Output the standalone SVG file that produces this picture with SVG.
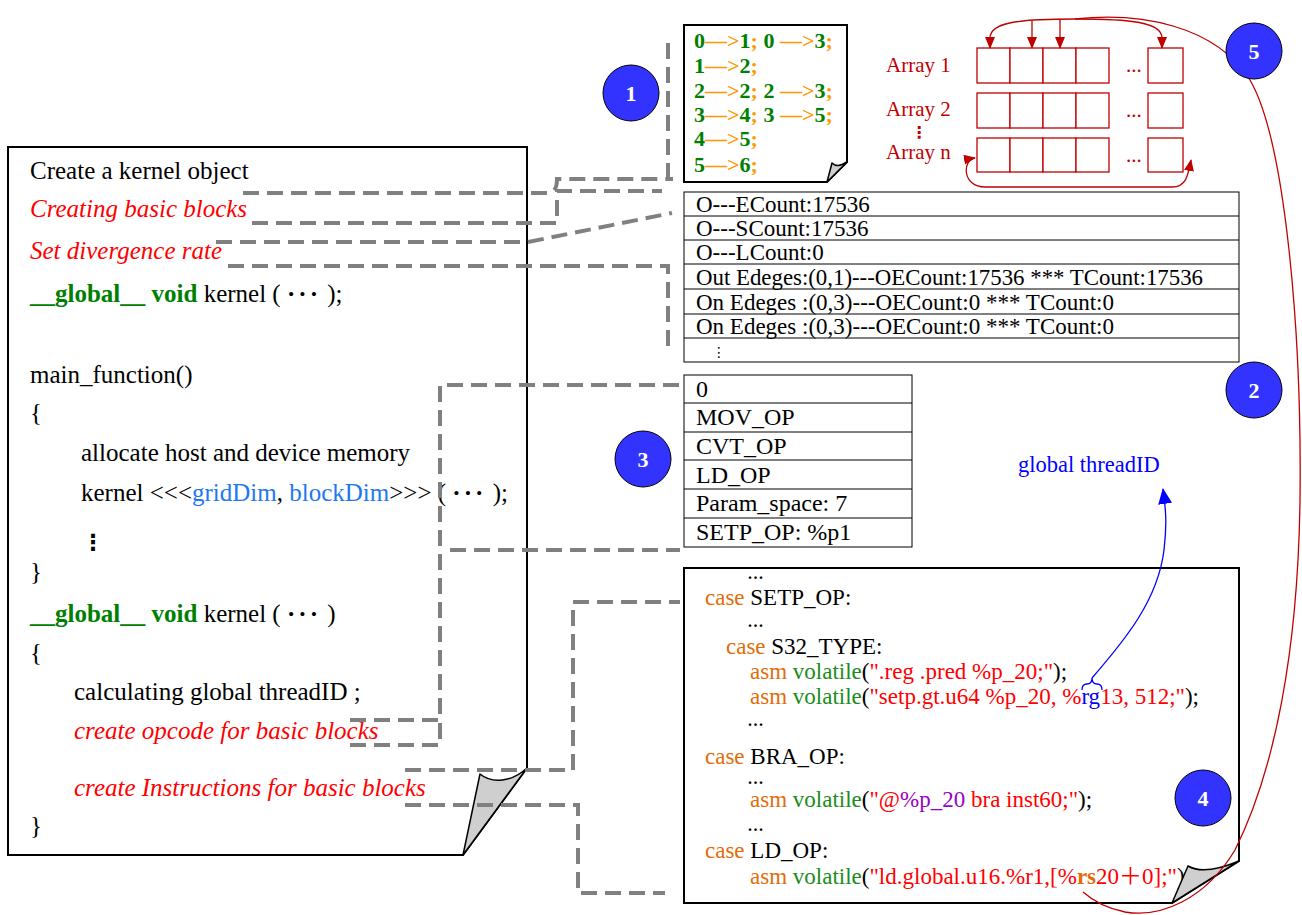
<svg xmlns="http://www.w3.org/2000/svg" width="1302" height="915" viewBox="0 0 1302 915">
<defs>
<style>
text{font-family:'Liberation Serif','Noto Sans CJK SC',serif;}
.doc{fill:#fff;stroke:#000;stroke-width:2;stroke-linejoin:miter}
.fold{fill:#cfcfcf;stroke:#000;stroke-width:1.5;stroke-linejoin:round}
.L{font-size:25px;fill:#000}
.red{fill:#ff0000;font-style:italic}
.grn{fill:#008000;font-weight:bold}
.blu{fill:#1e78f0}
.tb{fill:#fff;stroke:#000;stroke-width:1}
.ln{stroke:#000;stroke-width:1}
.T{font-size:24px;fill:#000}
.T2{font-size:23px;fill:#000}
.b1{font-size:22px;font-weight:bold;fill:#008000}
.or{fill:#ff9900}
.C{font-size:23px;fill:#000}
.cs{fill:#e36c09}
.vo{fill:#1a8c1a}
.st{fill:#ff0000}
.pu{fill:#9900cc}
.dt{font-weight:bold}
.el{font-size:16px;font-weight:bold;fill:#000;letter-spacing:1.5px}
.arr{font-size:21px;fill:#c00000}
.ac{fill:#fff;stroke:#c00000;stroke-width:1.3}
.rl{fill:none;stroke:#c00000;stroke-width:1.3}
.d{fill:none;stroke:#808080;stroke-width:4;stroke-dasharray:16 8}
.circ{fill:#3333ff;stroke:#000;stroke-width:1}
.num{font-size:22px;font-weight:bold;fill:#fff;text-anchor:middle}
</style>
<marker id="ra" markerWidth="12" markerHeight="10" refX="11" refY="5" orient="auto-start-reverse" markerUnits="userSpaceOnUse"><path d="M0,0 L12,5 L0,10 z" fill="#c00000"/></marker>
<marker id="ba" markerWidth="16" markerHeight="14" refX="15" refY="7" orient="auto" markerUnits="userSpaceOnUse"><path d="M0,0 L16,7 L0,14 z" fill="#0000ff"/></marker>
</defs>

<g id="left-doc">
<path class="doc" d="M8,147 H527 V768 L463,855 H8 Z"/>
<path class="fold" d="M527,768 C512,782 492,784 480,774 L463,855 Z"/>
<text class="L" x="30" y="179">Create a kernel object</text>
<text class="L red" x="30" y="217">Creating basic blocks</text>
<text class="L red" x="30" y="259">Set divergence rate</text>
<text class="L" x="30" y="302"><tspan class="grn">__global__</tspan>  <tspan class="grn">void</tspan> kernel ( <tspan class="dt" letter-spacing="3">···</tspan> );</text>
<text class="L" x="30" y="383">main_function()</text>
<text class="L" x="30" y="421">{</text>
<text class="L" x="81" y="461">allocate host and device memory</text>
<text class="L" x="81" y="501">kernel &lt;&lt;&lt;<tspan class="blu">gridDim</tspan>, <tspan class="blu">blockDim</tspan>&gt;&gt;&gt; ( <tspan class="dt" letter-spacing="3">···</tspan> );</text>
<text class="L dt" x="82" y="550" style="font-family:'DejaVu Sans',sans-serif;font-size:22px">⋮</text>
<text class="L" x="30" y="580">}</text>
<text class="L" x="30" y="622"><tspan class="grn">__global__</tspan>  <tspan class="grn">void</tspan> kernel ( <tspan class="dt" letter-spacing="3">···</tspan> )</text>
<text class="L" x="30" y="661">{</text>
<text class="L" x="74" y="700">calculating global threadID  ;</text>
<text class="L red" x="74" y="739">create opcode for basic blocks</text>
<text class="L red" x="74" y="796">create Instructions for basic blocks</text>
<text class="L" x="30" y="834">}</text>
</g>

<g id="box1">
<path class="doc" d="M684,25 H847 V162 L827,182 H684 Z"/>
<path class="fold" d="M847,162 C840,166 836,167 832,163 L827,182 Z"/>
<text class="b1" x="694" y="48">0<tspan class="or">—&gt;</tspan>1<tspan class="or">;</tspan> 0<tspan class="or"> —&gt;</tspan>3<tspan class="or">;</tspan></text>
<text class="b1" x="694" y="73">1<tspan class="or">—&gt;</tspan>2<tspan class="or">;</tspan></text>
<text class="b1" x="694" y="98">2<tspan class="or">—&gt;</tspan>2<tspan class="or">;</tspan> 2<tspan class="or"> —&gt;</tspan>3<tspan class="or">;</tspan></text>
<text class="b1" x="694" y="122">3<tspan class="or">—&gt;</tspan>4<tspan class="or">;</tspan> 3<tspan class="or"> —&gt;</tspan>5<tspan class="or">;</tspan></text>
<text class="b1" x="694" y="146">4<tspan class="or">—&gt;</tspan>5<tspan class="or">;</tspan></text>
<text class="b1" x="694" y="172">5<tspan class="or">—&gt;</tspan>6<tspan class="or">;</tspan></text>
</g>

<g id="arrays">
<text class="arr" x="886" y="72">Array 1</text>
<text class="arr" x="886" y="116">Array 2</text>
<text class="arr" x="911" y="138" style="font-family:'DejaVu Sans',sans-serif;font-size:16px;font-weight:bold">⋮</text>
<text class="arr" x="886" y="159">Array n</text>
<rect class="ac" x="977" y="48" width="33" height="35"/><rect class="ac" x="1010" y="48" width="33" height="35"/><rect class="ac" x="1043" y="48" width="33" height="35"/><rect class="ac" x="1076" y="48" width="33" height="35"/><rect class="ac" x="1148" y="48" width="35" height="35"/>
<rect class="ac" x="977" y="93" width="33" height="35"/><rect class="ac" x="1010" y="93" width="33" height="35"/><rect class="ac" x="1043" y="93" width="33" height="35"/><rect class="ac" x="1076" y="93" width="33" height="35"/><rect class="ac" x="1148" y="93" width="35" height="35"/>
<rect class="ac" x="977" y="138" width="33" height="34"/><rect class="ac" x="1010" y="138" width="33" height="34"/><rect class="ac" x="1043" y="138" width="33" height="34"/><rect class="ac" x="1076" y="138" width="33" height="34"/><rect class="ac" x="1148" y="138" width="35" height="34"/>
<text class="arr" x="1126" y="72">...</text>
<text class="arr" x="1126" y="117">...</text>
<text class="arr" x="1126" y="162">...</text>
<path class="rl" d="M1075,19 C1020,19 990,22 990,38 V48" marker-end="url(#ra)"/>
<path class="rl" d="M1075,19 C1130,19 1162,22 1162,38 V48" marker-end="url(#ra)"/>
<path class="rl" d="M1032,21 V48" marker-end="url(#ra)"/>
<path class="rl" d="M1060,19 V48" marker-end="url(#ra)"/>
<path class="rl" d="M975,158 C962,160 962,187 985,187 H1172 C1186,187 1188,176 1191,160" marker-start="url(#ra)" marker-end="url(#ra)"/>
</g>

<g id="table2">
<rect class="tb" x="684" y="192" width="555" height="170"/>
<path class="ln" d="M684,216 H1239 M684,240 H1239 M684,264 H1239 M684,289 H1239 M684,314 H1239 M684,338 H1239"/>
<text class="T2" x="696" y="212">O---ECount:17536</text>
<text class="T2" x="696" y="236">O---SCount:17536</text>
<text class="T2" x="696" y="260">O---LCount:0</text>
<text class="T2" x="696" y="285" textLength="507" lengthAdjust="spacingAndGlyphs">Out Edeges:(0,1)---OECount:17536 ***  TCount:17536</text>
<text class="T2" x="696" y="310">On Edeges :(0,3)---OECount:0 ***  TCount:0</text>
<text class="T2" x="696" y="334">On Edeges :(0,3)---OECount:0 ***  TCount:0</text>
<text x="712" y="357" style="font-family:'DejaVu Sans',sans-serif;font-size:14px;fill:#000">⋮</text>
</g>

<g id="table3">
<rect class="tb" x="684" y="375" width="228" height="172"/>
<path class="ln" d="M684,403 H912 M684,432 H912 M684,460 H912 M684,489 H912 M684,518 H912"/>
<text class="T" x="696" y="397">0</text>
<text class="T" x="696" y="425">MOV_OP</text>
<text class="T" x="696" y="454">CVT_OP</text>
<text class="T" x="696" y="483">LD_OP</text>
<text class="T" x="696" y="511">Param_space: 7</text>
<text class="T" x="696" y="540">SETP_OP: %p1</text>
</g>

<g id="box4">
<path class="doc" d="M684,568 H1239 V861 L1172,903 H684 Z"/>
<text class="el" x="748" y="579">...</text>
<text class="C" x="705" y="605"><tspan class="cs">case</tspan> SETP_OP:</text>
<text class="el" x="748" y="627">...</text>
<text class="C" x="726" y="654"><tspan class="cs">case</tspan> S32_TYPE:</text>
<text class="C" x="750" y="679"><tspan class="cs">asm</tspan> <tspan class="vo">volatile</tspan>(<tspan class="st">".reg .pred %p_20;"</tspan>);</text>
<text class="C" x="750" y="704"><tspan class="cs">asm</tspan> <tspan class="vo">volatile</tspan>(<tspan class="st">"setp.gt.u64 %p_20, %</tspan><tspan fill="#0000ff">rg</tspan><tspan class="st">13, 512;"</tspan>);</text>
<text class="el" x="748" y="726">...</text>
<text class="C" x="705" y="764"><tspan class="cs">case</tspan> BRA_OP:</text>
<text class="el" x="748" y="784">...</text>
<text class="C" x="750" y="807"><tspan class="cs">asm</tspan> <tspan class="vo">volatile</tspan>(<tspan class="st">"@</tspan><tspan class="pu">%p_20</tspan><tspan class="st"> bra inst60;"</tspan>);</text>
<text class="el" x="748" y="831">...</text>
<text class="C" x="705" y="858"><tspan class="cs">case</tspan> LD_OP:</text>
<text class="C" x="750" y="884"><tspan class="cs">asm</tspan> <tspan class="vo">volatile</tspan>(<tspan class="st">"ld.global.u16.%r1,[%</tspan><tspan class="cs" font-weight="bold">rs</tspan><tspan class="st">20＋0];"</tspan>);</text>
<path class="fold" d="M1239,861 C1220,869 1200,873 1188,866 L1172,903 Z"/>
</g>

<g id="threadid-label">
<text x="1018" y="472" style="font-size:22.5px;fill:#0000ff">global threadID</text>
</g>

<g id="connectors">
<path class="d" d="M243,193 H548 Q557,193 557,179 H673"/>
<path class="d" d="M668,43 V177"/>
<path class="d" d="M252,223 H557 V191 H662"/>
<path class="d" d="M216,242 H528 L672,213"/>
<path class="d" d="M228,266 H668 V352"/>
<path class="d" d="M350,720 H440 V385 H680"/>
<path class="d" d="M350,745 H440 V722"/>
<path class="d" d="M450,550 H680"/>
<path class="d" d="M405,770 H573 V602 H680"/>
<path class="d" d="M405,805 H578 V893 H665"/>
<path d="M1082,690 Q1082,684 1087,684 Q1092,684 1092,678 Q1092,684 1097,684 Q1102,684 1102,690" fill="none" stroke="#0000ff" stroke-width="1.3"/>
<path d="M1092,678 C1125,640 1158,600 1164,550 C1167,525 1166,510 1163,489" fill="none" stroke="#0000ff" stroke-width="1.3" marker-end="url(#ba)"/>
<path class="rl" d="M1075,19 C1140,12 1215,25 1250,80 C1285,140 1302,330 1300,500 C1298,650 1275,770 1235,850 C1205,900 1160,918 1125,912 C1105,908 1092,900 1083,892"/>
</g>

<g id="markers">
<circle class="circ" cx="631" cy="93" r="28"/><text class="num" x="631" y="101">1</text>
<circle class="circ" cx="1254" cy="390" r="28"/><text class="num" x="1254" y="398">2</text>
<circle class="circ" cx="643" cy="459" r="28"/><text class="num" x="643" y="467">3</text>
<circle class="circ" cx="1203" cy="798" r="28"/><text class="num" x="1203" y="806">4</text>
<circle class="circ" cx="1254" cy="51" r="28"/><text class="num" x="1254" y="59">5</text>
</g>
</svg>
